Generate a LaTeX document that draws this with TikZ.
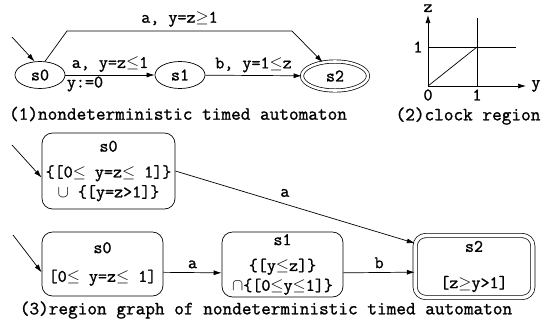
\documentclass[tikz,border=0pt]{standalone}
\usepackage{fontspec}
\setmonofont{Latin Modern Mono}[FakeBold=1.2]
\usetikzlibrary{arrows.meta,shapes.geometric,positioning}

\newcommand{\sle}{\ensuremath{\le}}
\newcommand{\sge}{\ensuremath{\ge}}

\begin{document}
\begin{tikzpicture}[x=0.03cm,y=-0.03cm,>={Latex[length=2.4mm,width=1.5mm]},
    line width=0.6pt,font=\ttfamily\fontsize{15}{17}\selectfont,
    state/.style={draw,ellipse,inner sep=0pt,minimum width=1.5cm,minimum height=0.81cm},
    final/.style={state,double,double distance=2.2pt,minimum width=1.98cm,minimum height=0.87cm},
    region/.style={draw,rounded corners=9pt,inner sep=0pt,align=center},
    finalregion/.style={region,double,double distance=3pt},
    caption/.style={font=\ttfamily\fontsize{16}{18}\selectfont,inner sep=0pt}]
  \useasboundingbox (0,0) rectangle (551,329);

  % (1) the timed automaton
  \node[state] (s0) at (40,75) {s0};
  \node[state] (s1) at (180,75) {s1};
  \node[final] (s2) at (335,76) {s2};
  \coordinate (init0) at (12,37);
  \coordinate (up0) at (67,31);
  \coordinate (up2) at (292,31);
  \draw[->] (init0) -- (s0.112);
  \draw[->] (s0) -- node[above=-1pt] {a, y=z\sle1} (s1);
  \node[below right=0pt and 0pt of s0.east,inner sep=1pt] (reset) {y:=0};
  \draw[->] (s1) -- node[above=-1pt] {b, y=1\sle z} (s2);
  \draw[->] (s0.70) -- (up0) -- node[above=0pt] {a, y=z\sge1} (up2) -- (s2.132);
  \node[caption] (cap1) at (178,114) {(1)nondeterministic timed automaton};

  % (2) clock regions of y and z
  \coordinate (o) at (428,86);
  \draw[->] (o) -- (428,15) node[above=-1pt] (zlab) {z};
  \draw[->] (o) -- (526,86) node[right=1pt] (ylab) {y};
  \draw (477,18) -- (477,86);
  \draw (428,47) -- (516,47);
  \draw (o) -- (477,47);
  \node (one) at (418,47) {1};
  \node (zero) at (428,95) {0};
  \node (oney) at (477,95) {1};
  \node[caption] (cap2) at (468,116) {(2)clock region};

  % (3) the region graph
  \node[region,minimum width=3.99cm,minimum height=2.28cm] (r0a) at (108.5,171)
    {s0\\[5pt]\{[0\sle\ y=z\sle\ 1]\}\\[0pt]$\cup$ \{[y=z>1]\}};
  \node[region,minimum width=3.63cm,minimum height=1.92cm] (r0b) at (102.5,264)
    {s0\\[7.5pt][0\sle\ y=z\sle\ 1]};
  \node[region,minimum width=3.63cm,minimum height=1.95cm] (r1) at (282.5,264.5)
    {s1\\[5pt]\{[y\sle z]\}\\[0pt]$\cap$\{[0\sle y\sle1]\}};
  \node[finalregion,minimum width=3.53cm,minimum height=1.86cm] (r2) at (474,266.5)
    {s2\\[14pt][z\sge y>1]};
  \coordinate (init1) at (12,145);
  \coordinate (init2) at (13,235);
  \draw[->] (init1) -- ([yshift=-0.2cm]r0a.west);
  \draw[->] (init2) -- ([yshift=-0.25cm]r0b.west);
  \draw[->] (r0a.east) -- node[pos=0.45,above right=2pt and -6pt] {a} ([yshift=0.7cm]r2.west);
  \draw[->] ([yshift=-0.25cm]r0b.east) -- node[above] {a} ([yshift=-0.25cm]r1.west);
  \draw[->] ([yshift=-0.25cm]r1.east) -- node[above] {b} ([yshift=-0.17cm]r2.west);
  \node[caption] (cap3) at (266,310) {(3)region graph of nondeterministic timed automaton};
\end{tikzpicture}
\end{document}
